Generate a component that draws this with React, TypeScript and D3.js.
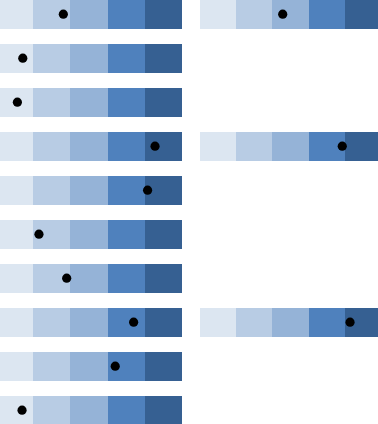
import React from "react";
import * as d3 from "d3";

const W = 378;
const H = 424;

// Band thresholds (upper bounds) on a 0–100 scale
const bandEdges = [0, 20, 40, 60, 80, 100];
const bandColors = ["#dce6f1", "#b8cce4", "#95b3d7", "#4f81bd", "#366092"];

// Left column: 10 rows of marker values
const leftValues = [36.2, 14.4, 11.5, 85.5, 81.5, 23.1, 38.0, 74.0, 64.1, 14.0];
// Right column: rows that have a panel, and their values
const rightRows = [0, 3, 7];
const rightValues = [45.7, 78.6, 82.9];

export default function App() {
  const rowStep = 44;
  const rowH = 28.5;
  const xLeft = d3.scaleLinear().domain([0, 100]).range([-4, 182]);
  const xRight = d3.scaleLinear().domain([0, 100]).range([200, 381]);

  const bands = (x: d3.ScaleLinear<number, number>, y: number, key: string) =>
    bandColors.map((c, i) => (
      <rect
        key={key + i}
        x={x(bandEdges[i])}
        y={y}
        width={x(bandEdges[i + 1]) - x(bandEdges[i])}
        height={rowH}
        fill={c}
        shapeRendering="crispEdges"
      />
    ));

  return (
    <div style={{ position: "absolute", left: 0, top: 0 }}>
      <svg width={W} height={H} style={{ display: "block" }}>
        <rect width={W} height={H} fill="#fff" />
        {leftValues.map((v, r) => (
          <g key={"l" + r}>
            {bands(xLeft, r * rowStep, "lb" + r)}
            <circle cx={xLeft(v)} cy={r * rowStep + 14.2} r={4.6} fill="#000" />
          </g>
        ))}
        {rightValues.map((v, i) => {
          const r = rightRows[i];
          return (
            <g key={"r" + i}>
              {bands(xRight, r * rowStep, "rb" + i)}
              <circle cx={xRight(v)} cy={r * rowStep + 14.2} r={4.6} fill="#000" />
            </g>
          );
        })}
      </svg>
    </div>
  );
}
